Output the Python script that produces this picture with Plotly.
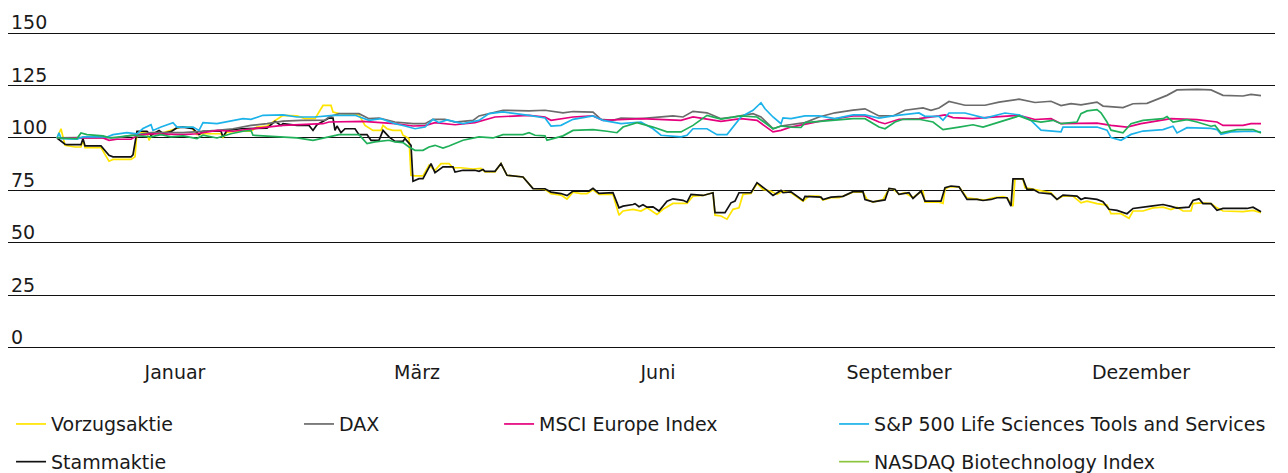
import plotly.graph_objects as go

# ---------------- data (trading-day index, indexed value) ----------------
vz_t = [0, 2, 4, 9, 12, 13, 14, 22, 26, 28, 37, 39, 40, 45, 46, 48, 53, 60, 62, 67, 70, 73, 82, 83, 85, 92, 97, 100, 105, 108, 113, 120, 124, 129, 133, 137, 138, 141, 151, 154, 158, 162, 163, 165, 168, 172, 173, 176, 177, 179, 183, 186, 189, 192, 196, 198, 202, 208, 212, 214, 219, 222, 225, 233, 238, 244, 247, 252, 255, 258, 262, 265, 268, 271, 278, 281, 283, 288, 292, 295, 300, 303, 308, 315, 318, 323, 328, 329, 332, 335, 338, 341, 343, 347, 350, 353, 357, 360, 363, 367, 373, 376, 381, 383, 387, 391, 398, 403, 405, 408, 413, 416, 418, 421, 424, 428, 430, 433, 434, 441, 443, 444, 446, 451, 455, 461, 464, 468, 473, 475, 478, 479, 483, 484, 489, 493, 497, 500, 503, 508, 512, 515, 520, 525, 527, 532, 536, 538, 543, 548, 553, 557, 560, 563, 567, 568, 572, 577, 580, 583, 593, 598, 602]
vz_v = [100, 104.4, 96.5, 95.7, 95.7, 99, 95.4, 95.4, 88.9, 89.8, 89.8, 91, 102.9, 102.5, 98.9, 102.5, 102.5, 104.4, 105.2, 105.2, 101.6, 102, 102, 100.3, 102.8, 103.2, 103.2, 105.2, 105.7, 107.6, 110.8, 110.5, 109.2, 109.2, 115.5, 115.5, 112.4, 111.6, 111, 106, 103.6, 103.6, 106, 104.4, 103.6, 103.6, 101.3, 99.7, 82.2, 81.9, 81.9, 87, 84.6, 87.8, 87.8, 85.8, 85.8, 85.2, 85.5, 83.8, 83.8, 87.8, 82.2, 81.4, 75.9, 75.5, 73.5, 72.8, 70.9, 74.2, 73.5, 73.5, 75.3, 73.1, 73.1, 63.2, 65.2, 66, 65.2, 66.7, 63.6, 66, 68.8, 68.8, 72.3, 72.6, 73.9, 63.2, 62.8, 61.3, 66, 66.7, 73.1, 73.5, 78.3, 75.5, 74.6, 73.1, 74.6, 73.9, 69.9, 72.3, 72.3, 70.4, 71.5, 71.5, 74.2, 74.2, 70.7, 69.4, 70.7, 75.8, 75.8, 73.1, 73.9, 71.5, 73.1, 74.6, 69.4, 69.4, 68.8, 75.5, 76.7, 76.7, 71.5, 70.7, 70.4, 71.5, 72, 71.5, 67.5, 80.5, 80.5, 76.3, 75.5, 74.9, 73.9, 70.7, 72.3, 72.3, 69.1, 69.9, 68.7, 68, 63.9, 63.9, 61.7, 65.2, 65.2, 66.7, 67, 65.9, 67, 65.2, 65.2, 68.7, 69.1, 68.7, 66.7, 65.2, 64.9, 65.5, 64.4]

st_t = [0, 4, 5, 12, 13, 14, 22, 26, 28, 37, 38, 40, 45, 47, 51, 53, 57, 60, 63, 68, 71, 73, 82, 83, 85, 92, 105, 109, 112, 113, 120, 126, 128, 130, 136, 138, 139, 140, 142, 144, 149, 151, 155, 157, 161, 163, 166, 169, 173, 174, 177, 178, 181, 183, 187, 189, 193, 198, 199, 203, 209, 211, 213, 214, 219, 222, 225, 233, 238, 244, 247, 252, 255, 258, 266, 268, 271, 278, 281, 283, 288, 289, 291, 293, 295, 298, 301, 305, 308, 313, 315, 317, 323, 328, 329, 334, 337, 339, 341, 347, 350, 353, 355, 358, 362, 363, 367, 373, 374, 382, 383, 387, 393, 398, 403, 404, 408, 414, 416, 419, 421, 426, 428, 432, 434, 442, 444, 447, 451, 455, 460, 463, 467, 470, 475, 477, 478, 483, 485, 488, 491, 497, 500, 503, 510, 512, 514, 520, 523, 526, 530, 535, 538, 547, 553, 557, 560, 566, 568, 571, 573, 577, 580, 583, 595, 598, 602]
st_v = [100, 97, 96.8, 96.8, 99.7, 96.2, 96.2, 91.7, 91, 91, 92, 103.2, 103.2, 101.3, 103.6, 102.2, 103, 104.9, 105.2, 104.4, 101.6, 103.2, 103.2, 100.5, 103.6, 104.4, 104.7, 107.9, 106, 106.8, 106, 106, 103.6, 106.3, 109.5, 109.5, 103.6, 105.7, 102.5, 104.4, 104.4, 101.6, 101.6, 98.9, 98.9, 103.6, 100.5, 98.4, 98.4, 99.7, 96.5, 79.4, 80.6, 80.6, 87.8, 83.5, 86.2, 86.2, 83.8, 84.6, 84.6, 84.1, 85, 84.1, 84.1, 87.8, 82.2, 81.4, 75.9, 75.8, 74.2, 73.5, 72.5, 74.7, 74.7, 76, 73.6, 73.9, 66.7, 67.5, 68.3, 68.7, 67.2, 68.2, 67, 67.2, 65.2, 69.9, 71, 70.3, 69.4, 73.1, 72.6, 73.9, 64.4, 64.4, 69.1, 69.9, 73.9, 73.9, 78.7, 76.6, 75, 72.6, 75, 73.9, 74.3, 70.2, 72.2, 71.8, 70.7, 71.8, 72.2, 74.4, 74.4, 70.7, 69.6, 70.5, 76, 75.6, 73.1, 73.9, 71.2, 74.7, 69.9, 69.9, 76.3, 77.1, 76.7, 70.7, 70.7, 70.2, 70.7, 71.5, 71.5, 67.5, 80.5, 80.5, 75.5, 75.5, 73.9, 73.4, 70.7, 72.8, 72.3, 70.7, 71.4, 70.7, 69.6, 66, 65.5, 63.9, 66.4, 67.5, 68.3, 67.4, 66.6, 67, 70.2, 71, 68.7, 68.7, 65.5, 66.4, 66.4, 67, 64.8]

dax_t = [0, 10, 30, 33, 40, 47, 63, 72, 80, 88, 97, 105, 113, 122, 134, 136, 141, 151, 153, 156, 161, 169, 178, 184, 188, 194, 199, 208, 211, 219, 223, 236, 244, 253, 258, 268, 272, 278, 282, 292, 302, 308, 313, 318, 325, 332, 338, 348, 352, 358, 362, 367, 374, 381, 389, 398, 404, 411, 418, 424, 433, 437, 441, 446, 454, 464, 471, 481, 489, 497, 502, 507, 512, 520, 523, 533, 538, 545, 550, 555, 560, 570, 577, 583, 593, 597, 602]
dax_v = [100, 100.2, 100.2, 100.5, 101.6, 102.5, 102.5, 102.9, 103.6, 104.4, 106, 106.8, 108, 108.4, 108.5, 110, 111.6, 111.6, 110.5, 109.2, 109.5, 107.6, 106.8, 106.8, 108.9, 108.9, 107.6, 108.4, 110.5, 112.4, 113.2, 112.9, 113.2, 112, 112.6, 112.3, 108.9, 108.4, 109.5, 109.2, 110, 110.5, 110, 112.7, 112, 109.2, 110, 111.6, 110, 104.4, 105.7, 106.3, 107.3, 110, 112, 113.3, 113.9, 110.5, 110.5, 113.2, 114.3, 113.2, 114.3, 117.4, 115.6, 115.6, 117.1, 118.5, 116.9, 117.5, 115.4, 116.4, 115.8, 117.1, 115.2, 114.5, 116.3, 116.5, 118.3, 120.3, 122.9, 123.2, 122.9, 120.3, 120, 120.8, 120.2]

msci_t = [0, 10, 23, 26, 30, 37, 40, 47, 63, 70, 80, 88, 97, 105, 113, 122, 133, 136, 153, 169, 178, 184, 189, 199, 209, 219, 236, 244, 247, 258, 268, 273, 282, 292, 312, 318, 325, 332, 342, 350, 358, 362, 367, 373, 381, 398, 404, 411, 414, 421, 431, 441, 444, 448, 458, 464, 474, 481, 489, 497, 502, 512, 520, 527, 535, 542, 550, 557, 570, 580, 583, 593, 597, 602]
msci_v = [100, 100, 100, 98.9, 99.4, 99.4, 101, 102, 101.6, 102, 103.6, 103.2, 104.4, 105.2, 106, 106.3, 106.8, 107.6, 107.9, 106.8, 105.7, 105.9, 107.3, 106.3, 107.3, 110, 110.8, 110, 108.4, 110, 110.5, 108.4, 108.9, 109.2, 108.4, 110, 109, 107.9, 109.2, 108.4, 102.9, 103.6, 105.2, 106.3, 107.9, 110.5, 110.5, 107.6, 106.8, 108.9, 109.2, 110.5, 111, 109.7, 109.2, 109.7, 110.2, 110.8, 108.8, 109.2, 106.8, 107.1, 107.1, 106, 105.2, 106.8, 108.1, 109.2, 108.7, 107.6, 106, 106, 106.8, 106.8]

sp_t = [0, 1, 2, 6, 10, 13, 25, 28, 35, 40, 43, 47, 48, 52, 58, 60, 68, 71, 73, 80, 87, 93, 97, 103, 113, 120, 129, 138, 149, 156, 162, 169, 174, 179, 184, 188, 191, 195, 203, 211, 216, 223, 236, 244, 247, 252, 258, 268, 273, 282, 292, 298, 302, 312, 315, 318, 325, 330, 335, 342, 348, 352, 354, 358, 362, 363, 367, 374, 381, 389, 398, 404, 411, 418, 431, 434, 441, 443, 446, 454, 464, 474, 481, 487, 492, 502, 503, 520, 525, 527, 532, 537, 543, 553, 558, 560, 565, 577, 580, 582, 587, 597, 602]
sp_v = [100, 102.5, 99.7, 99.4, 99.4, 100.5, 100.5, 101.6, 102.5, 102, 104.5, 106.3, 103.6, 105.2, 107.3, 105.2, 105.2, 103.6, 107.3, 106.8, 107.9, 109.2, 108.9, 110.8, 111, 110, 110, 110.8, 110.8, 108.4, 109.2, 106.8, 105.7, 104.4, 105.2, 108.9, 107.3, 108.6, 106.8, 108.4, 111.6, 112.4, 110.8, 109.5, 105.7, 106, 108.9, 110.5, 108.4, 106.8, 107.6, 104.4, 101.3, 100.5, 101.3, 104.4, 104.4, 101.6, 101.6, 110, 113.2, 116.8, 113.9, 110, 106.8, 109.6, 109.2, 110.5, 110.5, 109.2, 111, 111, 109.5, 110.5, 111.9, 110.3, 110.3, 108.4, 111.9, 111.9, 109.5, 111.9, 111, 108.4, 103.7, 102.9, 105.2, 105.2, 103.7, 100.2, 98.9, 101.7, 103.3, 104, 105.6, 102.4, 104.9, 104.6, 104, 101.7, 102.9, 103.2, 102.9]

nq_t = [0, 10, 12, 15, 23, 27, 37, 40, 47, 52, 57, 63, 70, 73, 80, 87, 93, 97, 98, 103, 113, 120, 128, 133, 141, 151, 153, 155, 159, 166, 169, 173, 176, 179, 183, 186, 189, 193, 196, 199, 203, 211, 218, 223, 233, 236, 239, 244, 245, 248, 253, 258, 268, 275, 280, 283, 290, 298, 305, 312, 318, 325, 332, 342, 350, 358, 362, 367, 372, 374, 381, 398, 404, 411, 414, 419, 423, 431, 438, 443, 451, 458, 463, 471, 481, 487, 492, 498, 502, 510, 512, 515, 520, 522, 525, 527, 533, 537, 543, 553, 555, 558, 565, 570, 577, 579, 582, 590, 598, 602]
nq_v = [100, 99.7, 102.4, 101.6, 101, 100, 101.3, 101, 100.5, 101.6, 100.5, 101, 99.7, 101.3, 100, 102, 103.2, 103.6, 101.3, 101, 100.5, 100, 98.9, 100, 101.6, 101.6, 99.7, 97.3, 98.1, 98.9, 98.1, 97.8, 95.7, 94.1, 94.1, 95.7, 96.5, 95.2, 96.2, 97.3, 98.9, 100.5, 100, 101.6, 101.6, 102.5, 101.3, 101, 98.9, 99.7, 101, 103.6, 104, 103.2, 102.5, 105.2, 107.3, 105.2, 102.9, 102.9, 106, 110.8, 109, 110.5, 110, 104.4, 105.7, 105.2, 105, 107.3, 107.9, 109.2, 109.2, 105.2, 104.4, 107.6, 108.9, 108.9, 107.6, 104, 105.2, 106.3, 105.2, 107.6, 110.5, 108.4, 107.6, 108.4, 106.8, 107.6, 111.6, 112.9, 113.5, 112, 107.6, 103.7, 102.4, 106.8, 108.4, 109.2, 110.2, 107.6, 108.7, 107.6, 105.6, 106, 102.4, 104, 104, 102.4]

month_pos = [59, 180, 300.5, 421, 542]
month_labels = ["Januar", "März", "Juni", "September", "Dezember"]
y_ticks = [0, 25, 50, 75, 100, 125, 150]

# ---------------- figure ----------------
FONT = "DejaVu Sans"
TXT = "#1a1a1a"
LW = 1.7

fig = go.Figure()

def add(name, t, v, color, legend, show=True):
    fig.add_trace(go.Scatter(
        x=t, y=v, mode="lines", name=name,
        line=dict(color=color, width=LW),
        legend=legend, legendgroup=name, showlegend=show,
        hoverinfo="skip"))

add("Vorzugsaktie", vz_t, vz_v, "#ffe500", "legend")
add("Stammaktie", st_t, st_v, "#111111", "legend")
add("DAX", dax_t, dax_v, "#6b6b6b", "legend2")
add("MSCI Europe Index", msci_t, msci_v, "#e5007d", "legend3")
add("S&P 500 Life Sciences Tools and Services", sp_t, sp_v, "#1cb2ea", "legend4")
add("NASDAQ Biotechnology Index", nq_t, nq_v, "#20b05a", "legend4", show=False)
# legend entry for NASDAQ (legend swatch colour differs from the line in the original)
fig.add_trace(go.Scatter(x=[None], y=[None], mode="lines", name="NASDAQ Biotechnology Index",
                         line=dict(color="#8cc63f", width=LW), legend="legend4",
                         legendgroup="nq_legend", showlegend=True))

leg_common = dict(orientation="v", yanchor="top", y=-0.177, xanchor="left",
                  font=dict(family=FONT, size=19, color=TXT),
                  bgcolor="rgba(0,0,0,0)", tracegroupgap=10,
                  itemclick=False, itemdoubleclick=False)

fig.update_layout(
    width=1280, height=465,
    margin=dict(l=0, r=13, t=24, b=124, autoexpand=False),
    paper_bgcolor="white", plot_bgcolor="white",
    font=dict(family=FONT, size=19, color=TXT),
    legend=dict(x=0.0024, **leg_common),
    legend2=dict(x=0.2297, **leg_common),
    legend3=dict(x=0.3876, **leg_common),
    legend4=dict(x=0.6520, **leg_common),
    xaxis=dict(range=[-24.5, 609], showgrid=False, zeroline=False, showline=False,
               ticks="", ticklen=0, tickvals=month_pos, ticktext=month_labels,
               ticklabelstandoff=10,
               tickfont=dict(family=FONT, size=19, color=TXT)),
    yaxis=dict(range=[-0.57, 150.5], tickvals=y_ticks, showgrid=True, gridcolor="#111111",
               gridwidth=1, zeroline=False, showline=False, ticks="", ticklen=0,
               ticklabelposition="inside top", ticklabelstandoff=0,
               ticklabeloverflow="allow", ticklabelshift=3,
               tickfont=dict(family=FONT, size=19, color=TXT)),
)

fig.write_html("out.html")
